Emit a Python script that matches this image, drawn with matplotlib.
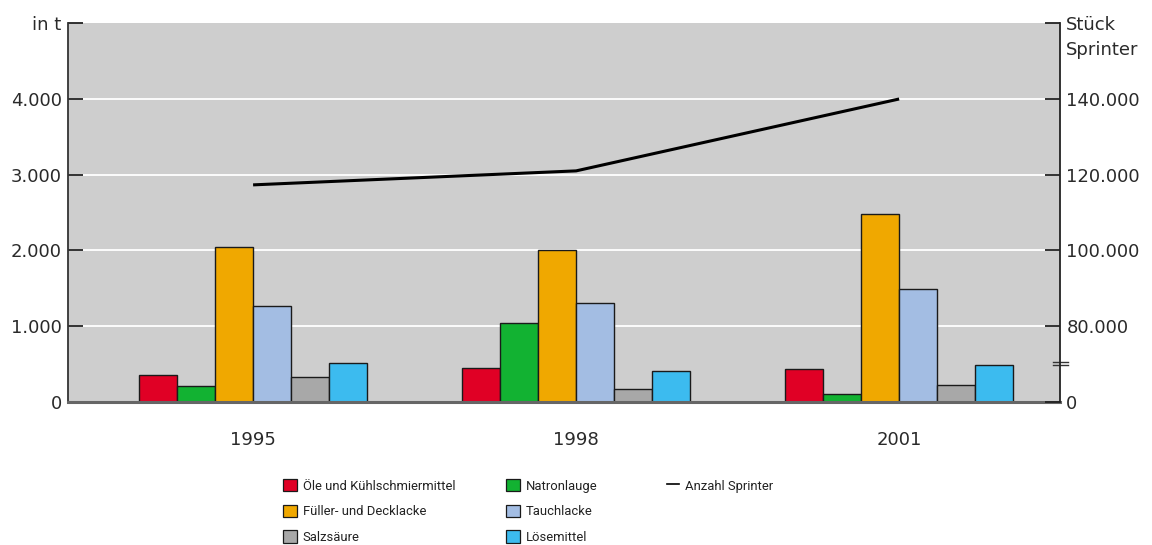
import matplotlib
matplotlib.use("Agg")
import matplotlib.pyplot as plt
import numpy as np
from matplotlib.patches import Patch
from matplotlib.lines import Line2D

# Data
years = ["1995", "1998", "2001"]
series_names = [
    "Öle und Kühlschmiermittel",
    "Natronlauge",
    "Füller- und Decklacke",
    "Tauchlacke",
    "Salzsäure",
    "Lösemittel",
]
oele = [350, 440, 435]
natronlauge = [205, 1045, 100]
fueller = [2045, 2010, 2475]
tauchlacke = [1265, 1300, 1490]
salzsaeure = [330, 170, 215]
loesemittel = [515, 400, 485]
sprinter = [117300, 121000, 140000]

left_ticks = [0, 1000, 2000, 3000, 4000, 5000]
left_labels = ["0", "1.000", "2.000", "3.000", "4.000", "in t"]
right_ticks = [60000, 80000, 100000, 120000, 140000, 160000]
right_labels = ["0", "80.000", "100.000", "120.000", "140.000", ""]

colors = ["#E00025", "#12B232", "#F0A800", "#A3BDE3", "#A8A8A8", "#3CBBEF"]
values = [oele, natronlauge, fueller, tauchlacke, salzsaeure, loesemittel]

plt.rcParams["font.family"] = ["DejaVu Sans"]
W, H = 1152, 545
fig = plt.figure(figsize=(W / 100, H / 100), dpi=100)
ax = fig.add_axes([68 / W, 1 - 401.7 / H, 992 / W, (401.7 - 23.3) / H])
ax.set_facecolor("#CECECE")

x = np.arange(len(years))
bw = 0.1173
for i, (vals, col) in enumerate(zip(values, colors)):
    ax.bar(x + (i - 2.5) * bw, vals, width=bw, color=col,
           edgecolor="#1a1a1a", linewidth=1.0, zorder=2)

ax.set_xlim(-0.573, 2.498)
ax.set_ylim(0, 5000)
ax.set_yticks(left_ticks, left_labels)
for y in left_ticks[1:-1]:
    ax.axhline(y, color="white", linewidth=1.3, zorder=1)

ax.set_xticks(x, years)
ax.tick_params(axis="x", length=0, pad=21, labelsize=13, labelcolor="#2a2a2a")
ax.tick_params(axis="y", direction="in", length=10.5, width=1.3, color="#222222",
               pad=4.5, labelsize=13, labelcolor="#2a2a2a")
ax.spines["top"].set_visible(False)
ax.spines["right"].set_visible(False)
ax.spines["left"].set_color("#333333")
ax.spines["left"].set_linewidth(1.3)
ax.spines["bottom"].set_color("#666666")
ax.spines["bottom"].set_linewidth(2.2)
ax.spines["bottom"].set_zorder(3)

# Right axis: number of Sprinter vans
ax2 = ax.twinx()
ax2.set_ylim(60000, 160000)
ax2.plot(x, sprinter, color="black", linewidth=2.2, solid_capstyle="butt", zorder=5)
ax2.set_yticks(right_ticks, right_labels)
ax2.tick_params(axis="y", direction="in", length=10.5, width=1.3, color="#222222",
                pad=4.5, labelsize=13, labelcolor="#2a2a2a")
for s in ["top", "left", "bottom"]:
    ax2.spines[s].set_visible(False)
ax2.spines["right"].set_color("#222222")
ax2.spines["right"].set_linewidth(1.3)
ax2.annotate("Stück\nSprinter", xy=(1, 160000), xycoords=("axes fraction", "data"),
             xytext=(4.5, 5.0), textcoords="offset points", ha="left", va="top",
             fontsize=13, color="#2a2a2a", linespacing=1.45)

# axis break marker on the right axis
for yb in [69600, 70400]:
    ax2.add_line(Line2D([0.9927, 1.0084], [yb, yb], transform=ax2.get_yaxis_transform(),
                        color="#333333", linewidth=1.0, clip_on=False))

# Legend in three columns
leg_font = ["Roboto", "DejaVu Sans"]
fs = 9.4
hl = 14 / (fs * 100 / 72)
pad = 5.6 / (fs * 100 / 72)
handles = [Patch(facecolor=c, edgecolor="#1a1a1a", linewidth=0.9) for c in colors]
cols = [
    ([handles[0], handles[2], handles[4]], [series_names[0], series_names[2], series_names[4]], 283.3),
    ([handles[1], handles[3], handles[5]], [series_names[1], series_names[3], series_names[5]], 506.0),
]
for hs, ls, xp in cols:
    fig.legend(hs, ls, loc="upper left", bbox_to_anchor=(xp / W, 1 - 479 / H),
               frameon=False, borderpad=0, borderaxespad=0, handlelength=hl,
               handleheight=hl, handletextpad=pad, labelspacing=0.92,
               prop={"family": leg_font, "size": fs}, labelcolor="#222222")
fig.legend([Line2D([], [], color="black", linewidth=1.2)], ["Anzahl Sprinter"],
           loc="upper left", bbox_to_anchor=(666.7 / W, 1 - 479 / H), frameon=False,
           borderpad=0, borderaxespad=0, handlelength=12.6 / (fs * 100 / 72),
           handleheight=hl, handletextpad=pad,
           prop={"family": leg_font, "size": fs}, labelcolor="#222222")

fig.savefig("out.png", dpi=100, facecolor="white")
